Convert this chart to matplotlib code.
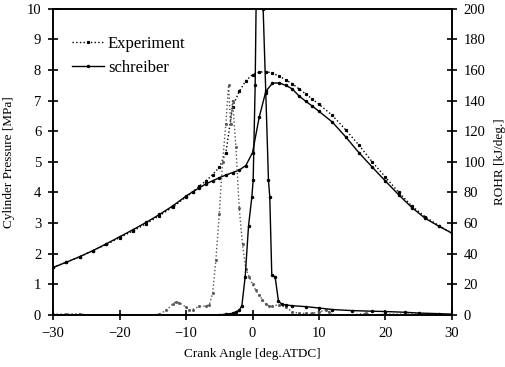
import matplotlib.pyplot as plt

plt.rcParams["font.family"] = ["Liberation Serif", "DejaVu Serif"]

# cylinder pressure [MPa]
p_angle = [-30, -28, -26, -24, -22, -20, -18, -16, -14, -12, -10, -9, -8, -7, -6,
           -5, -4, -3, -2, -1, 0, 1, 2, 3, 4, 5, 6, 7, 8, 9, 10,
           12, 14, 16, 18, 20, 22, 24, 26, 28, 30]
p_exp = [1.55, 1.72, 1.90, 2.10, 2.30, 2.52, 2.74, 2.98, 3.24, 3.52, 3.85, 4.02, 4.20, 4.38, 4.58,
         4.82, 5.30, 6.80, 7.30, 7.65, 7.85, 7.93, 7.95, 7.90, 7.80, 7.68, 7.55, 7.38, 7.22, 7.05, 6.88,
         6.52, 6.05, 5.55, 5.00, 4.50, 4.00, 3.55, 3.20, 2.92, 2.67]
p_sch = [1.55, 1.72, 1.90, 2.10, 2.32, 2.55, 2.78, 3.02, 3.28, 3.56, 3.88, 4.02, 4.15, 4.28, 4.38,
         4.48, 4.57, 4.65, 4.73, 4.88, 5.30, 6.45, 7.30, 7.57, 7.58, 7.50, 7.38, 7.15, 6.98, 6.82, 6.65,
         6.30, 5.82, 5.30, 4.83, 4.37, 3.92, 3.50, 3.15, 2.90, 2.67]

# rate of heat release [kJ/deg.]
r_exp_angle = [-30, -28, -26, -25, -20, -15, -14, -13, -12, -11.5, -11, -10, -9.5, -9, -8, -7,
               -6.5, -6, -5.5, -5, -4.5, -4, -3.6, -3.3, -3, -2.5, -2, -1.5, -1, -0.5,
               0, 0.5, 1, 1.5, 2, 2.5, 3, 4, 5, 6, 7, 8, 9, 10, 11, 11.5, 12, 15, 17, 18,
               20, 25, 30]
r_exp = [0.5, 0.5, 0.8, 0, 0, 0, 0.5, 3, 7, 8.7, 8, 5, 3, 3.5, 5.5, 5.8,
         6.5, 14, 36, 66, 100, 125, 150, 125, 140, 110, 70, 46, 30, 25,
         20, 16, 13, 10, 7, 6, 6, 6.5, 5, 2, 1, 1, 1, 2, 3, 2, 0, 0, 1, 0,
         0.5, 0.5, 0]

r_sch_angle = [-30, -20, -10, -5, -4, -3, -2.5, -2, -1.6, -1.1, -0.6, -0.1, 0.1, 0.4, 0.7, 1.0,
               1.3, 1.6, 2.0, 2.4, 2.6, 2.9, 3.4, 3.9, 4.4, 5, 6, 8, 10, 12, 15, 18, 20, 23,
               25, 28, 30]
r_sch = [0, 0, 0, 0, 0.5, 1, 2, 3, 6, 25, 58, 77, 88, 150, 260, 330,
         280, 200, 145, 88, 77, 26, 25, 9, 7, 6.5, 6, 5.4, 4.5, 3.5, 2.8, 2.4, 2.2, 1.7,
         1.2, 0.8, 0.5]

fig = plt.figure(figsize=(5.05, 3.67), dpi=100)
ax = fig.add_axes([0.105, 0.142, 0.79, 0.834])
ax2 = ax.twinx()

l_exp, = ax.plot(p_angle, p_exp, color="black", ls=":", lw=1.0,
                 marker="s", ms=1.3, label="Experiment")
l_sch, = ax.plot(p_angle, p_sch, color="black", ls="-", lw=1.0,
                 marker="o", ms=1.5, label="schreiber")

ax2.plot(r_exp_angle, r_exp, color="#555555", ls=":", lw=1.0, marker="s", ms=1.0)
ax2.plot(r_sch_angle, r_sch, color="black", ls="-", lw=1.0, marker="o", ms=1.5)

ax.set_xlim(-30, 30)
ax.set_ylim(0, 10)
ax2.set_ylim(0, 200)
ax.set_xticks(range(-30, 31, 10))
ax.set_yticks(range(0, 11))
ax2.set_yticks(range(0, 201, 20))

for a in (ax, ax2):
    a.tick_params(direction="inout", length=7, width=1.2, labelsize=10.5, pad=5)
    for s in a.spines.values():
        s.set_linewidth(1.2)

ax.set_xlabel("Crank Angle [deg.ATDC]", fontsize=9.5, labelpad=6)
ax.set_ylabel("Cylinder Pressure [MPa]", fontsize=9.5, labelpad=8)
ax2.set_ylabel("ROHR [kJ/deg.]", fontsize=9.5, labelpad=6)

ax.legend(handles=[l_exp, l_sch], loc="upper left", bbox_to_anchor=(0.01, 0.96),
          frameon=False, fontsize=12, handlelength=1.9, handletextpad=0.25,
          labelspacing=0.45)

fig.savefig("out.png", dpi=100)
